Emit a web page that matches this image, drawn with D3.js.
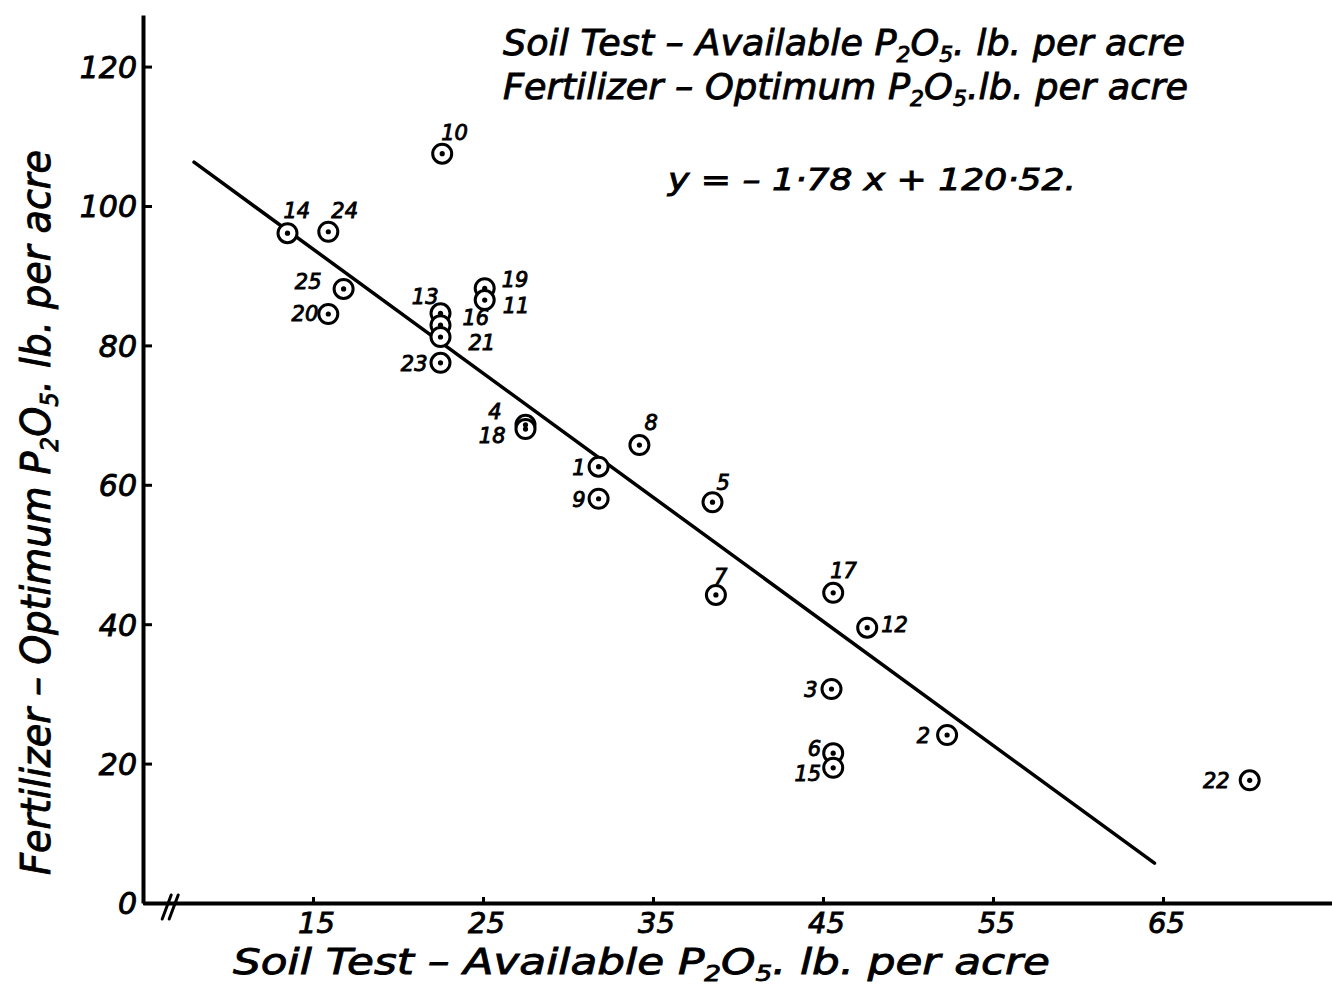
<!DOCTYPE html>
<html>
<head>
<meta charset="utf-8">
<script src="https://cdn.jsdelivr.net/npm/d3@7"></script>
<style>
  html, body { margin: 0; padding: 0; background: #fff; }
  svg { display: block; }
  .hand { font-family: 'DejaVu Sans', sans-serif; font-style: oblique; fill: #000; stroke: #000; stroke-width: 0.9px; }
</style>
</head>
<body>
<div id="chart"></div>
<script>
// sample numbers as written beside each point
const ids = ['14', '24', '25', '20', '10', '13', '16', '21', '23', '19', '11', '4', '18',
  '8', '1', '9', '5', '7', '17', '12', '3', '6', '15', '2', '22'];
// soil test, available P2O5 lb per acre
const soilTest = [13.5, 15.9, 16.8, 15.9, 22.6, 22.5, 22.5, 22.5, 22.5, 25.1, 25.1, 27.5, 27.5,
  34.2, 31.8, 31.8, 38.5, 38.7, 45.6, 47.6, 45.5, 45.6, 45.6, 52.3, 70.1];
// fertilizer, optimum P2O5 lb per acre
const optimum = [96.1, 96.3, 88.1, 84.5, 107.5, 84.6, 82.9, 81.2, 77.5, 88.2, 86.5, 68.6, 68.0,
  65.7, 62.6, 58.0, 57.5, 44.2, 44.5, 39.5, 30.7, 21.5, 19.4, 24.1, 17.6];

const xTicks = [15, 25, 35, 45, 55, 65];
const yTicks = [0, 20, 40, 60, 80, 100, 120];

// regression y = -1.78x + 120.52, drawn between these soil test values
const slope = -1.78;
const intercept = 120.52;
const fitRange = [8, 64.5];

// where each number sits relative to its point: [dx, dy, anchor]
const labelOffsets = {
  '14': [-4, -15, 'start'], '24': [3, -14, 'start'], '25': [-22, 0, 'end'], '20': [-10, 7, 'end'],
  '10': [-1, -14, 'start'], '13': [-2, -9, 'end'], '16': [22, 0, 'start'], '21': [28, 13, 'start'],
  '23': [-13, 8, 'end'], '19': [17, -1, 'start'], '11': [18, 13, 'start'], '4': [-24, -6, 'end'],
  '18': [-20, 14, 'end'], '8': [5, -15, 'start'], '1': [-13, 8, 'end'], '9': [-13, 8, 'end'],
  '5': [4, -12, 'start'], '7': [-2, -11, 'start'], '17': [-3, -15, 'start'], '12': [14, 4, 'start'],
  '3': [-14, 8, 'end'], '6': [-12, 3, 'end'], '15': [-12, 13, 'end'], '2': [-17, 8, 'end'],
  '22': [-20, 8, 'end']
};

const width = 1332;
const height = 985;

const svg = d3.select('#chart').append('svg').attr('width', width).attr('height', height);
svg.append('rect').attr('width', width).attr('height', height).attr('fill', '#fff');

const x = d3.scaleLinear().domain([5, 75]).range([143, 1333]);
const y = d3.scaleLinear().domain([0, 127.4]).range([903, 15]);

/* Axes
=========================================================================*/
const xAxis = svg.append('g')
  .attr('transform', `translate(0, ${y(0)})`)
  .call(d3.axisBottom(x).tickValues(xTicks).tickSize(-6).tickSizeOuter(0).tickPadding(9));

const yAxis = svg.append('g')
  .attr('transform', `translate(${x(5)}, 0)`)
  .call(d3.axisLeft(y).tickValues(yTicks).tickSize(-9).tickSizeOuter(0).tickPadding(6));

[xAxis, yAxis].forEach((g) => {
  g.select('.domain').attr('stroke', '#000').attr('stroke-width', 4);
  g.selectAll('.tick line').attr('stroke', '#000').attr('stroke-width', 3);
  g.selectAll('.tick text')
    .attr('class', 'hand')
    .attr('fill', '#000');
});
xAxis.selectAll('.tick text').style('font-size', '29px').attr('dx', 3);
yAxis.selectAll('.tick text').style('font-size', '30px').attr('dy', '0.36em');

// axis break mark
const bx = x(6.6);
[-3, 4].forEach((o) => {
  svg.append('line')
    .attr('x1', bx + o - 5).attr('y1', y(0) + 16)
    .attr('x2', bx + o + 4).attr('y2', y(0) - 8)
    .attr('stroke', '#000').attr('stroke-width', 3).attr('stroke-linecap', 'round');
});

/* Regression line
=========================================================================*/
svg.append('line')
  .attr('x1', x(fitRange[0])).attr('y1', y(slope * fitRange[0] + intercept))
  .attr('x2', x(fitRange[1])).attr('y2', y(slope * fitRange[1] + intercept))
  .attr('stroke', '#000').attr('stroke-width', 3.5).attr('stroke-linecap', 'round');

/* Points
=========================================================================*/
const points = ids.map((id, i) => ({ id, sx: soilTest[i], fy: optimum[i] }));

svg.append('g').selectAll('circle')
  .data(points)
  .join('circle')
  .attr('cx', (d) => x(d.sx))
  .attr('cy', (d) => y(d.fy))
  .attr('r', 9.5)
  .attr('fill', '#fff')
  .attr('stroke', '#000')
  .attr('stroke-width', 3);

svg.append('g').selectAll('circle')
  .data(points)
  .join('circle')
  .attr('cx', (d) => x(d.sx))
  .attr('cy', (d) => y(d.fy))
  .attr('r', 2.6)
  .attr('fill', '#000');

svg.append('g').selectAll('text')
  .data(points)
  .join('text')
  .attr('class', 'hand')
  .style('font-size', '21px')
  .attr('x', (d) => x(d.sx) + labelOffsets[d.id][0])
  .attr('y', (d) => y(d.fy) + labelOffsets[d.id][1])
  .attr('text-anchor', (d) => labelOffsets[d.id][2])
  .text((d) => d.id);

/* Titles
=========================================================================*/
function p2o5(text, parts, size) {
  // parts: [before, after] around P2O5
  const sub = size * 0.6 + 'px';
  text.append('tspan').text(parts[0] + 'P');
  text.append('tspan').attr('dy', size * 0.2).style('font-size', sub).text('2');
  text.append('tspan').attr('dy', -size * 0.2).text('O');
  text.append('tspan').attr('dy', size * 0.2).style('font-size', sub).text('5');
  text.append('tspan').attr('dy', -size * 0.2).text(parts[1]);
}

const t1 = svg.append('text').attr('class', 'hand').style('font-size', '36px')
  .attr('x', 503).attr('y', 55).attr('textLength', 682).attr('lengthAdjust', 'spacingAndGlyphs');
p2o5(t1, ['Soil Test – Available ', '. lb. per acre'], 36);

const t2 = svg.append('text').attr('class', 'hand').style('font-size', '36px')
  .attr('x', 503).attr('y', 99).attr('textLength', 685).attr('lengthAdjust', 'spacingAndGlyphs');
p2o5(t2, ['Fertilizer – Optimum ', '.lb. per acre'], 36);

svg.append('text').attr('class', 'hand').style('font-size', '30px')
  .attr('x', 668).attr('y', 190).attr('textLength', 408).attr('lengthAdjust', 'spacingAndGlyphs')
  .text('y = – 1·78 x + 120·52.');

const xl = svg.append('text').attr('class', 'hand').style('font-size', '36px')
  .attr('x', 233).attr('y', 974).attr('textLength', 817).attr('lengthAdjust', 'spacingAndGlyphs');
p2o5(xl, ['Soil Test  –  Available  ', '. lb.  per  acre'], 36);

const yl = svg.append('text').attr('class', 'hand').style('font-size', '40px')
  .attr('transform', 'translate(50, 875) rotate(-90)')
  .attr('textLength', 725).attr('lengthAdjust', 'spacingAndGlyphs');
p2o5(yl, ['Fertilizer  –  Optimum  ', '. lb. per acre'], 40);
</script>
</body>
</html>
